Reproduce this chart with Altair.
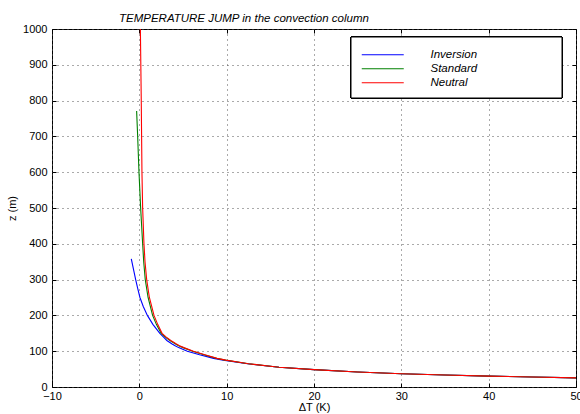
import altair as alt
import pandas as pd

# ---- data ----
series_names = ["Inversion", "Standard", "Neutral"]
series_colors = ["#0000ff", "#008000", "#ff0000"]

inv_z = [358, 330, 300, 275, 250, 225, 200, 175, 150, 140, 130, 120, 115, 110, 100, 90, 80, 75, 65, 55, 48.5, 42, 37, 33.5, 30.5, 28, 25.5]
inv_dt = [-0.92, -0.68, -0.42, -0.18, 0.07, 0.45, 0.92, 1.55, 2.35, 2.75, 3.15, 3.75, 4.1, 4.5, 5.5, 6.9, 8.5, 9.6, 12.4, 16, 20, 25, 30, 35, 40, 45, 50]

std_z = [771, 700, 600, 500, 400, 350, 300, 250, 200, 175, 150, 140, 130, 120, 115, 110, 100, 90, 80, 75, 65, 55, 48.5, 42, 37, 33.5, 30.5, 28, 25.5]
std_dt = [-0.31, -0.19, -0.04, 0.15, 0.38, 0.5, 0.68, 1.0, 1.52, 1.95, 2.5, 2.95, 3.5, 4.15, 4.5, 5.0, 6.1, 7.4, 8.85, 9.85, 12.5, 16, 20, 25, 30, 35, 40, 45, 50]

neu_z = [1000, 900, 800, 700, 600, 500, 400, 350, 300, 250, 200, 175, 150, 140, 130, 120, 115, 110, 100, 90, 80, 75, 65, 55, 48.5, 42, 37, 33.5, 30.5, 28, 25.5]
neu_dt = [0.12, 0.17, 0.22, 0.26, 0.30, 0.38, 0.53, 0.65, 0.84, 1.15, 1.68, 2.1, 2.6, 3.05, 3.6, 4.25, 4.6, 5.1, 6.2, 7.5, 8.9, 9.9, 12.5, 16, 20, 25, 30, 35, 40, 45, 50]

x_ticks = [-10, 0, 10, 20, 30, 40, 50]
y_ticks = [0, 100, 200, 300, 400, 500, 600, 700, 800, 900, 1000]

rows = []
for name, zs, dts in zip(series_names, [inv_z, std_z, neu_z], [inv_dt, std_dt, neu_dt]):
    for i, (z, dt) in enumerate(zip(zs, dts)):
        rows.append({"series": name, "z": z, "dT": dt, "idx": i})
df = pd.DataFrame(rows)

W, H = 524, 358
FONT = "Liberation Sans"

x_scale = alt.Scale(domain=[-10, 50], nice=False, zero=False)
y_scale = alt.Scale(domain=[0, 1000], nice=False)

lines = alt.Chart(df).mark_line(strokeWidth=1.1, clip=True).encode(
    x=alt.X("dT:Q", scale=x_scale,
            axis=alt.Axis(values=x_ticks, format="d", title="ΔT  (K)", grid=True, ticks=False, domain=False,
                          labelPadding=3, labelFontSize=11, labelColor="#000",
                          labelFlush=False, labelOverlap=False, labelBound=False,
                          gridColor="#555", gridDash=[1, 4], gridWidth=1,
                          titleFontSize=11, titleFontWeight="normal", titleColor="#000",
                          titleY=20, titleBaseline="middle")),
    y=alt.Y("z:Q", scale=y_scale,
            axis=alt.Axis(values=y_ticks, format="d", title="z  (m)", grid=True, ticks=False, domain=False,
                          labelPadding=5, labelFontSize=11, labelColor="#000",
                          labelFlush=False, labelOverlap=False, labelBound=False,
                          gridColor="#555", gridDash=[1, 4], gridWidth=1,
                          titleFontSize=11, titleFontWeight="normal", titleColor="#000",
                          titleX=-40, titleY=H / 2, titleBaseline="middle")),
    color=alt.Color("series:N", sort=series_names,
                    scale=alt.Scale(domain=series_names, range=series_colors),
                    legend=alt.Legend(title=None, orient="none", legendX=325, legendY=20,
                                      symbolType="M-7,0H7", symbolSize=36, symbolStrokeWidth=1,
                                      labelFont=FONT, labelFontSize=11.5, labelFontStyle="italic",
                                      labelColor="#000", labelOffset=42, rowPadding=1, padding=0)),
    order=alt.Order("idx:Q"),
)


def tick_layer(xorient, yorient):
    return alt.Chart(df).mark_point(opacity=0).encode(
        x=alt.X("dT:Q", scale=x_scale,
                axis=alt.Axis(orient=xorient, offset=-H, values=x_ticks, labels=False, domain=False,
                              grid=False, ticks=True, tickSize=4, tickColor="#000", title="")),
        y=alt.Y("z:Q", scale=y_scale,
                axis=alt.Axis(orient=yorient, offset=-W, values=y_ticks, labels=False, domain=False,
                              grid=False, ticks=True, tickSize=4, tickColor="#000", title="")),
    )


box = alt.Chart(df).mark_rect(fill="white", stroke="black", strokeWidth=1).encode(
    x=alt.value(299), x2=alt.value(510), y=alt.value(8), y2=alt.value(69)
)

chart = alt.layer(
    tick_layer("top", "right"),
    tick_layer("bottom", "left"),
    lines,
    box,
).resolve_axis(x="independent", y="independent").properties(
    width=W, height=H,
    autosize=alt.AutoSizeParams(type="none"),
    padding={"left": 52, "top": 29, "right": 4, "bottom": 27},
    title=alt.Title("TEMPERATURE JUMP in the convection column", anchor="start", frame="group",
                    dx=67, dy=3, offset=-7, fontSize=11.5, fontStyle="italic", fontWeight="normal",
                    font=FONT, color="#000", baseline="alphabetic"),
).configure(font=FONT).configure_view(stroke="black", strokeWidth=1)

chart.save("out.html", embed_options={"renderer": "svg", "actions": False})
